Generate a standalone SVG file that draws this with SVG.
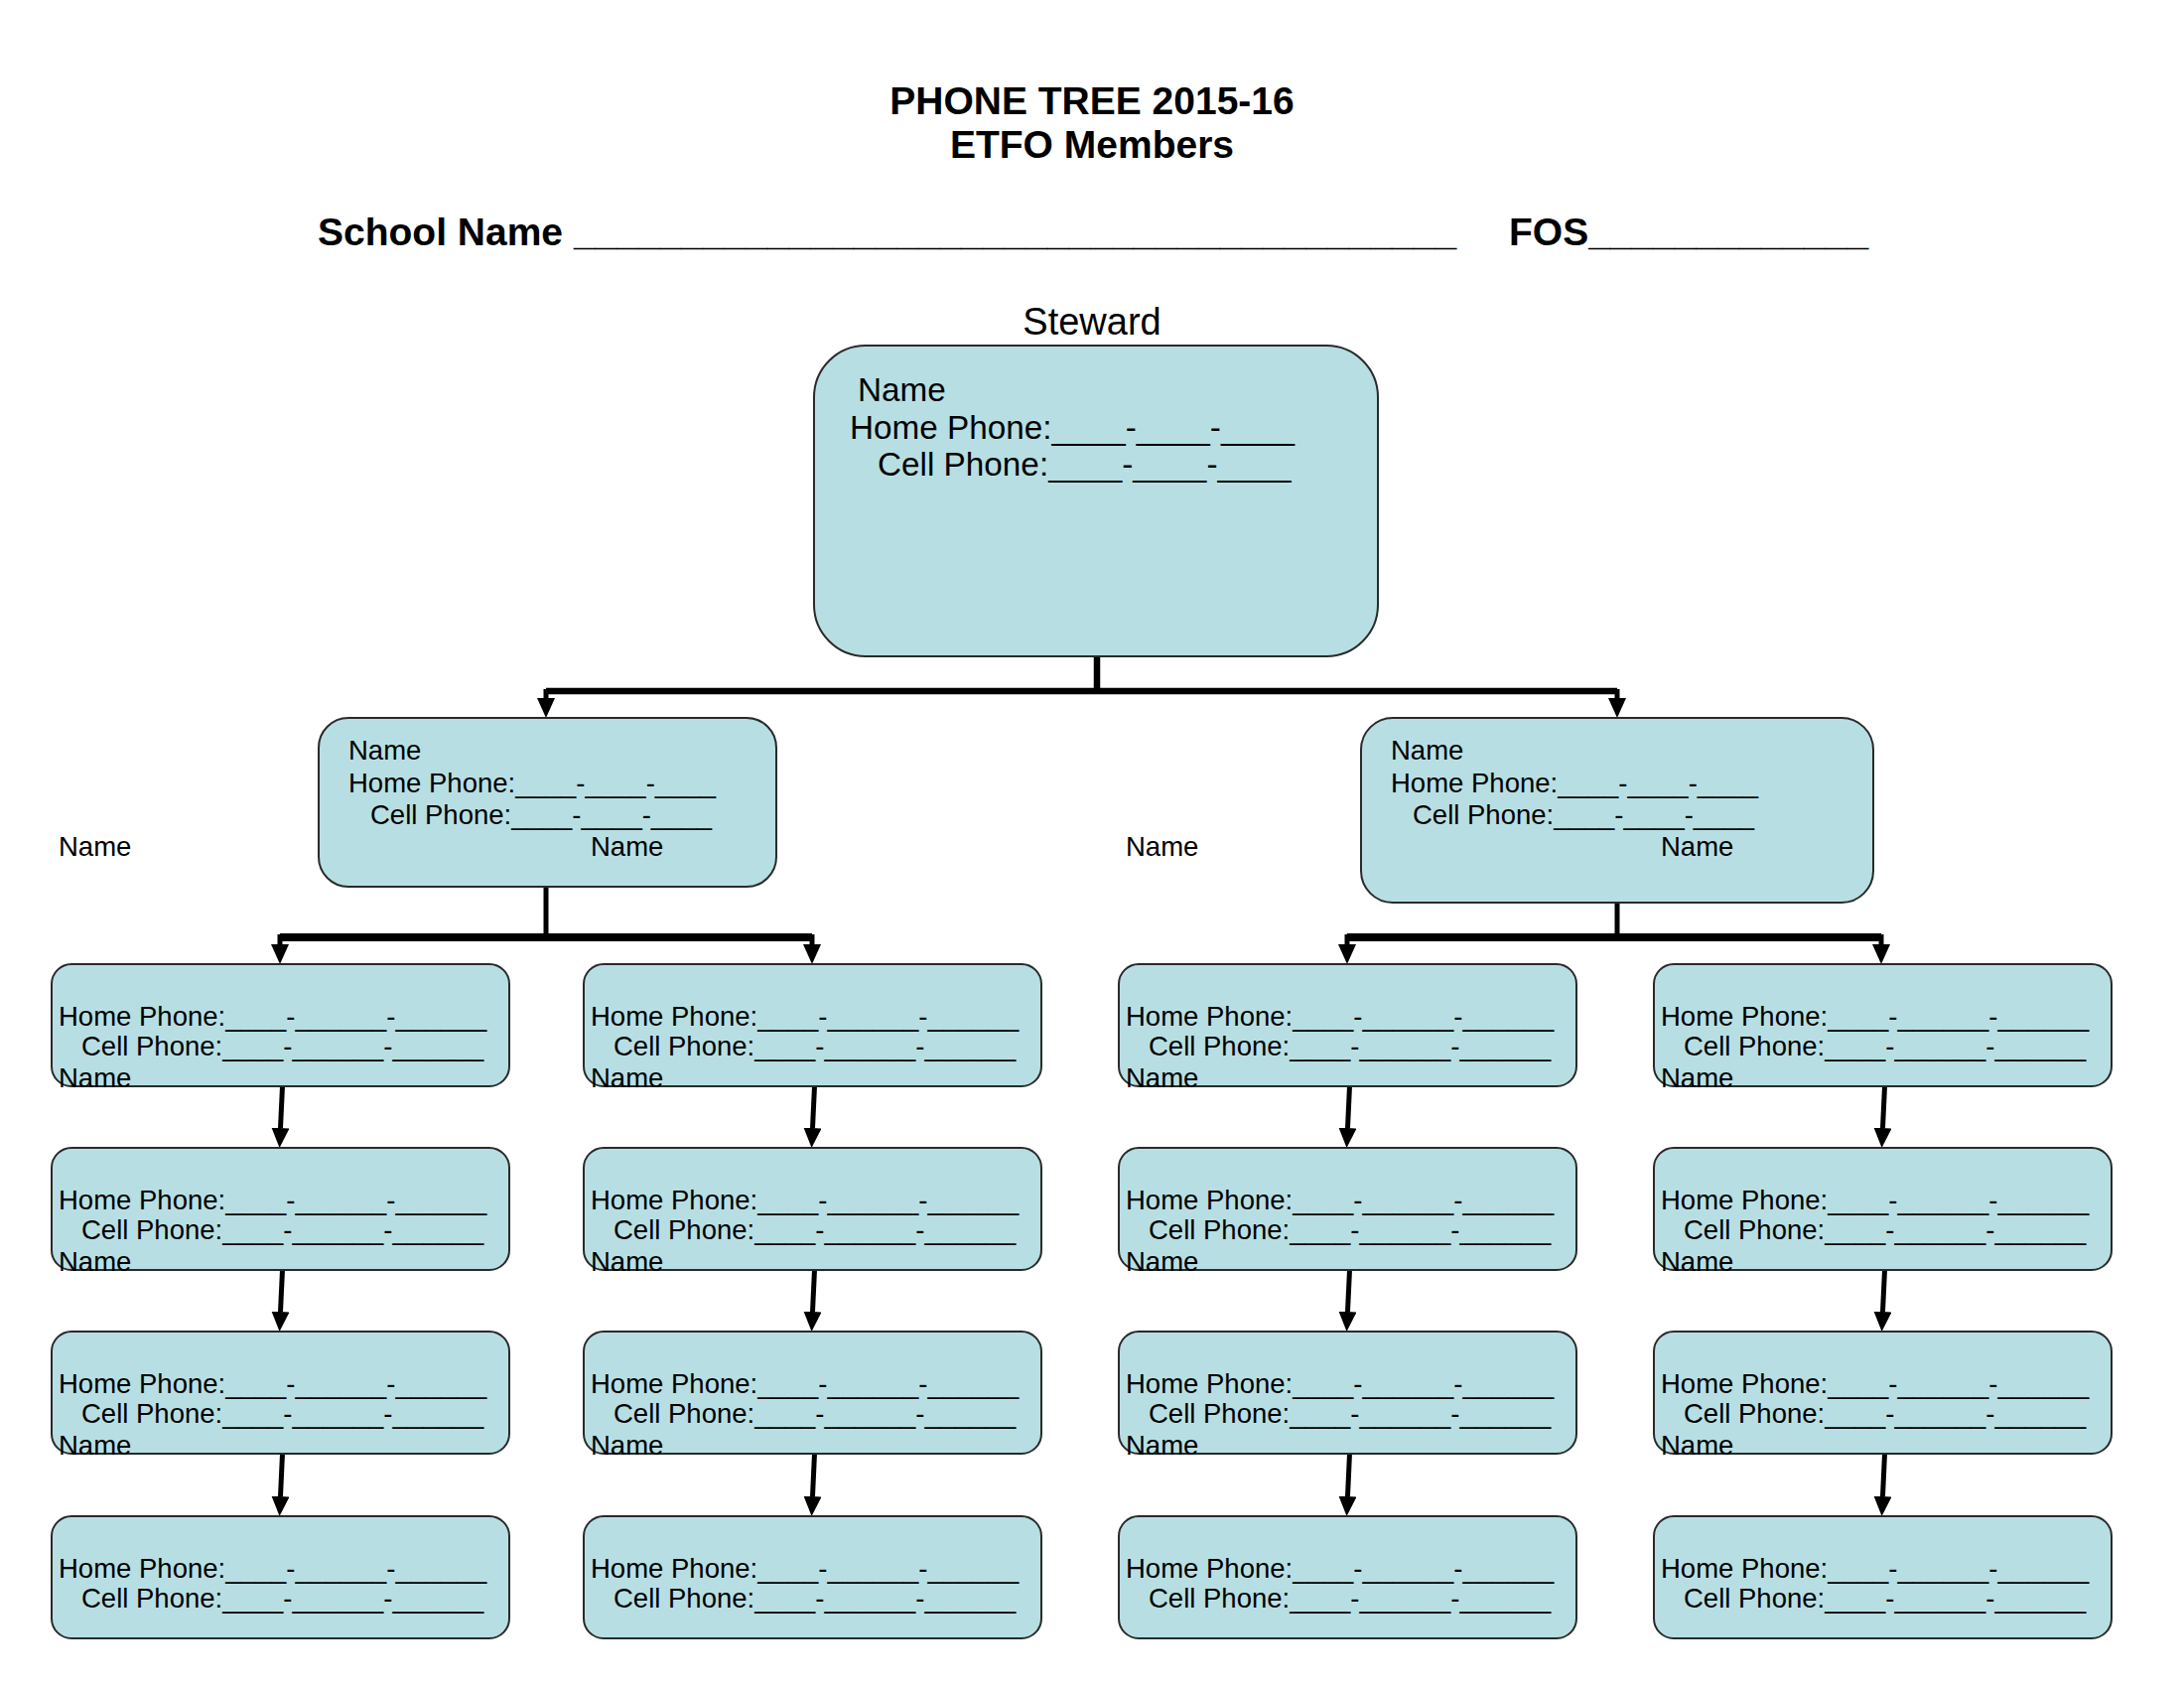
<svg xmlns="http://www.w3.org/2000/svg" width="2200" height="1700" viewBox="0 0 2200 1700">
<defs>
<style>
.t{font-family:"Liberation Sans",Arial,sans-serif;fill:#000}
.h{font-size:39px;font-weight:bold}
.st{font-size:38px}
.s33{font-size:33.3px}
.s27{font-size:27.5px}
.box{fill:#b7dfe3;stroke:#2a2a2a;stroke-width:2}
.c{fill:none;stroke:#000;stroke-linejoin:miter}
</style>
<marker id="ah" markerUnits="userSpaceOnUse" markerWidth="20" markerHeight="18" refX="0" refY="9" orient="auto" viewBox="0 0 20 18">
<path d="M0,0 L20,9 L0,18 z" fill="#000"/>
</marker>
</defs>
<rect width="2200" height="1700" fill="#fff"/>
<g id="header">
<text class="t h" x="1100" y="115" text-anchor="middle">PHONE TREE 2015-16</text>
<text class="t h" x="1100" y="159" text-anchor="middle">ETFO Members</text>
<text class="t h" x="320" y="247">School Name _________________________________________</text>
<text class="t h" x="1520" y="247">FOS_____________</text>
<text class="t st" x="1100" y="337" text-anchor="middle">Steward</text>
</g>
<g id="connectors">
<path class="c" stroke-width="6.5" d="M1105,661 V696"/>
<path class="c" stroke-width="6.5" d="M550,696 H1629"/>
<path class="c" stroke-width="5" d="M550,694 V703" marker-end="url(#ah)"/>
<path class="c" stroke-width="5" d="M1629,694 V703" marker-end="url(#ah)"/>
<path class="c" stroke-width="5" d="M550,893 V944"/>
<path class="c" stroke-width="8" d="M282,944 H818"/>
<path class="c" stroke-width="5" d="M282,941 V951" marker-end="url(#ah)"/>
<path class="c" stroke-width="5" d="M818,941 V951" marker-end="url(#ah)"/>
<path class="c" stroke-width="5" d="M1629,909 V944"/>
<path class="c" stroke-width="8" d="M1357,944 H1895"/>
<path class="c" stroke-width="5" d="M1357,941 V951" marker-end="url(#ah)"/>
<path class="c" stroke-width="5" d="M1895,941 V951" marker-end="url(#ah)"/>
<path class="c" stroke-width="5" d="M284.5,1094 L282.5,1136" marker-end="url(#ah)"/>
<path class="c" stroke-width="5" d="M284.5,1279 L282.5,1321" marker-end="url(#ah)"/>
<path class="c" stroke-width="5" d="M284.5,1464 L282.5,1507" marker-end="url(#ah)"/>
<path class="c" stroke-width="5" d="M820.5,1094 L818.5,1136" marker-end="url(#ah)"/>
<path class="c" stroke-width="5" d="M820.5,1279 L818.5,1321" marker-end="url(#ah)"/>
<path class="c" stroke-width="5" d="M820.5,1464 L818.5,1507" marker-end="url(#ah)"/>
<path class="c" stroke-width="5" d="M1359.5,1094 L1357.5,1136" marker-end="url(#ah)"/>
<path class="c" stroke-width="5" d="M1359.5,1279 L1357.5,1321" marker-end="url(#ah)"/>
<path class="c" stroke-width="5" d="M1359.5,1464 L1357.5,1507" marker-end="url(#ah)"/>
<path class="c" stroke-width="5" d="M1898.5,1094 L1896.5,1136" marker-end="url(#ah)"/>
<path class="c" stroke-width="5" d="M1898.5,1279 L1896.5,1321" marker-end="url(#ah)"/>
<path class="c" stroke-width="5" d="M1898.5,1464 L1896.5,1507" marker-end="url(#ah)"/>
</g>
<g id="steward">
<rect class="box" x="820" y="348" width="568" height="313" rx="52" ry="52"/>
<text class="t s33" x="864" y="404">Name</text>
<text class="t s33" x="856" y="442">Home Phone:____-____-____</text>
<text class="t s33" x="884" y="479">Cell Phone:____-____-____</text>
</g>
<g id="l1-left">
<rect class="box" x="321" y="723" width="461" height="170" rx="30" ry="30"/>
<text class="t s27" x="351" y="765">Name</text>
<text class="t s27" x="351" y="798">Home Phone:____-____-____</text>
<text class="t s27" x="373" y="830">Cell Phone:____-____-____</text>
<text class="t s27" x="595" y="862">Name</text>
</g>
<g id="l1-right">
<rect class="box" x="1371" y="723" width="516" height="186" rx="32" ry="32"/>
<text class="t s27" x="1401" y="765">Name</text>
<text class="t s27" x="1401" y="798">Home Phone:____-____-____</text>
<text class="t s27" x="1423" y="830">Cell Phone:____-____-____</text>
<text class="t s27" x="1673" y="862">Name</text>
</g>
<g id="outside-names">
<text class="t s27" x="59" y="862">Name</text>
<text class="t s27" x="1134" y="862">Name</text>
</g>
<g id="c1r1"><rect class="box" x="52" y="971" width="461" height="123" rx="20"/><text class="t s27" x="59" y="1033">Home Phone:____-______-______</text><text class="t s27" x="82" y="1063">Cell Phone:____-______-______</text><text class="t s27" x="59" y="1095">Name</text></g>
<g id="c1r2"><rect class="box" x="52" y="1156" width="461" height="123" rx="20"/><text class="t s27" x="59" y="1218">Home Phone:____-______-______</text><text class="t s27" x="82" y="1248">Cell Phone:____-______-______</text><text class="t s27" x="59" y="1280">Name</text></g>
<g id="c1r3"><rect class="box" x="52" y="1341" width="461" height="123" rx="20"/><text class="t s27" x="59" y="1403">Home Phone:____-______-______</text><text class="t s27" x="82" y="1433">Cell Phone:____-______-______</text><text class="t s27" x="59" y="1465">Name</text></g>
<g id="c1r4"><rect class="box" x="52" y="1527" width="461" height="123" rx="20"/><text class="t s27" x="59" y="1589">Home Phone:____-______-______</text><text class="t s27" x="82" y="1619">Cell Phone:____-______-______</text></g>
<g id="c2r1"><rect class="box" x="588" y="971" width="461" height="123" rx="20"/><text class="t s27" x="595" y="1033">Home Phone:____-______-______</text><text class="t s27" x="618" y="1063">Cell Phone:____-______-______</text><text class="t s27" x="595" y="1095">Name</text></g>
<g id="c2r2"><rect class="box" x="588" y="1156" width="461" height="123" rx="20"/><text class="t s27" x="595" y="1218">Home Phone:____-______-______</text><text class="t s27" x="618" y="1248">Cell Phone:____-______-______</text><text class="t s27" x="595" y="1280">Name</text></g>
<g id="c2r3"><rect class="box" x="588" y="1341" width="461" height="123" rx="20"/><text class="t s27" x="595" y="1403">Home Phone:____-______-______</text><text class="t s27" x="618" y="1433">Cell Phone:____-______-______</text><text class="t s27" x="595" y="1465">Name</text></g>
<g id="c2r4"><rect class="box" x="588" y="1527" width="461" height="123" rx="20"/><text class="t s27" x="595" y="1589">Home Phone:____-______-______</text><text class="t s27" x="618" y="1619">Cell Phone:____-______-______</text></g>
<g id="c3r1"><rect class="box" x="1127" y="971" width="461" height="123" rx="20"/><text class="t s27" x="1134" y="1033">Home Phone:____-______-______</text><text class="t s27" x="1157" y="1063">Cell Phone:____-______-______</text><text class="t s27" x="1134" y="1095">Name</text></g>
<g id="c3r2"><rect class="box" x="1127" y="1156" width="461" height="123" rx="20"/><text class="t s27" x="1134" y="1218">Home Phone:____-______-______</text><text class="t s27" x="1157" y="1248">Cell Phone:____-______-______</text><text class="t s27" x="1134" y="1280">Name</text></g>
<g id="c3r3"><rect class="box" x="1127" y="1341" width="461" height="123" rx="20"/><text class="t s27" x="1134" y="1403">Home Phone:____-______-______</text><text class="t s27" x="1157" y="1433">Cell Phone:____-______-______</text><text class="t s27" x="1134" y="1465">Name</text></g>
<g id="c3r4"><rect class="box" x="1127" y="1527" width="461" height="123" rx="20"/><text class="t s27" x="1134" y="1589">Home Phone:____-______-______</text><text class="t s27" x="1157" y="1619">Cell Phone:____-______-______</text></g>
<g id="c4r1"><rect class="box" x="1666" y="971" width="461" height="123" rx="20"/><text class="t s27" x="1673" y="1033">Home Phone:____-______-______</text><text class="t s27" x="1696" y="1063">Cell Phone:____-______-______</text><text class="t s27" x="1673" y="1095">Name</text></g>
<g id="c4r2"><rect class="box" x="1666" y="1156" width="461" height="123" rx="20"/><text class="t s27" x="1673" y="1218">Home Phone:____-______-______</text><text class="t s27" x="1696" y="1248">Cell Phone:____-______-______</text><text class="t s27" x="1673" y="1280">Name</text></g>
<g id="c4r3"><rect class="box" x="1666" y="1341" width="461" height="123" rx="20"/><text class="t s27" x="1673" y="1403">Home Phone:____-______-______</text><text class="t s27" x="1696" y="1433">Cell Phone:____-______-______</text><text class="t s27" x="1673" y="1465">Name</text></g>
<g id="c4r4"><rect class="box" x="1666" y="1527" width="461" height="123" rx="20"/><text class="t s27" x="1673" y="1589">Home Phone:____-______-______</text><text class="t s27" x="1696" y="1619">Cell Phone:____-______-______</text></g>
</svg>
